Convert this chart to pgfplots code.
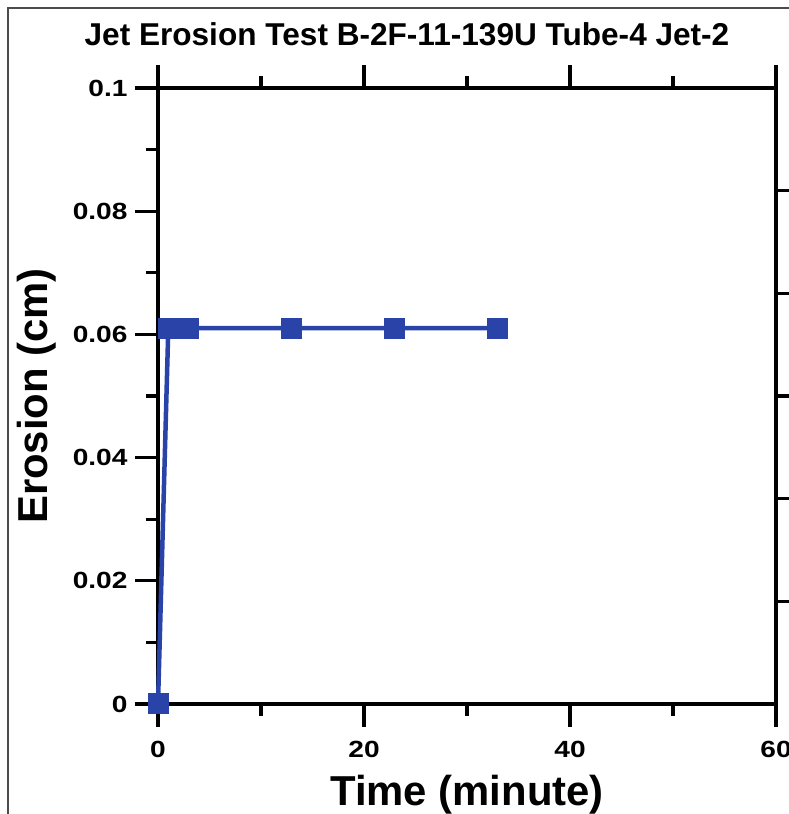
\documentclass[border=0pt]{standalone}
\usepackage{pgfplots}
\pgfplotsset{compat=1.18}
\usepackage{fontspec}
\setmainfont{Liberation Sans}
\newfontfamily\widefont{Liberation Sans}[FakeStretch=1.2]
\definecolor{serblue}{RGB}{41,67,168}
\begin{document}
\begin{tikzpicture}[x=1bp,y=1bp]
\path[use as bounding box] (0,0) rectangle (789,814);
\draw[line width=1.2bp,black!70] (8,-20) -- (8,806) -- (820,806);
\node[font=\fontsize{31.7}{33}\selectfont\bfseries,anchor=base] at (407,768) {Jet Erosion Test B-2F-11-139U Tube-4 Jet-2};
\begin{axis}[
  at={(158bp,110bp)}, anchor=south west,
  scale only axis, width=618bp, height=616bp,
  xmin=0, xmax=60, ymin=0, ymax=0.1,
  xtick={0,20,40,60}, ytick={0,0.02,0.04,0.06,0.08,0.1},
  minor x tick num=1, minor y tick num=1,
  ytick pos=left, xtick pos=both,
  tick align=outside,
  major tick length=23bp, minor tick length=12bp,
  axis line style={line width=3.2bp},
  every tick/.style={black,line width=3.2bp},
  xticklabel pos=bottom,
  ticklabel style={font=\widefont\fontsize{23.5}{25}\selectfont\bfseries},
  xticklabel style={yshift=-11bp},
  yticklabel style={xshift=-4bp,/pgf/number format/fixed,/pgf/number format/precision=2},
  /pgf/number format/assume math mode=true,
  scaled y ticks=false,
  xlabel={Time (minute)}, ylabel={Erosion (cm)},
  label style={font=\fontsize{42}{44}\selectfont\bfseries},
  xlabel style={yshift=-10bp},
  ylabel style={yshift=10bp},
  clip=false,
]
\addplot[color=serblue, line width=4.5bp, mark=square*, mark size=10bp, mark options={solid,fill=serblue,line width=0pt}]
coordinates {(0,0) (1,0.061) (2,0.061) (3,0.061) (13,0.061) (23,0.061) (33,0.061)};
\end{axis}
\begin{axis}[
  at={(158bp,110bp)}, anchor=south west,
  scale only axis, width=618bp, height=616bp,
  xmin=0, xmax=60, ymin=0, ymax=6,
  hide x axis, axis y line*=right,
  ytick={1,2,3,4,5}, yticklabels={},
  tick align=outside, major tick length=23bp,
  axis line style={line width=3.2bp,-},
  every tick/.style={black,line width=3.2bp},
]
\end{axis}
\end{tikzpicture}
\end{document}
